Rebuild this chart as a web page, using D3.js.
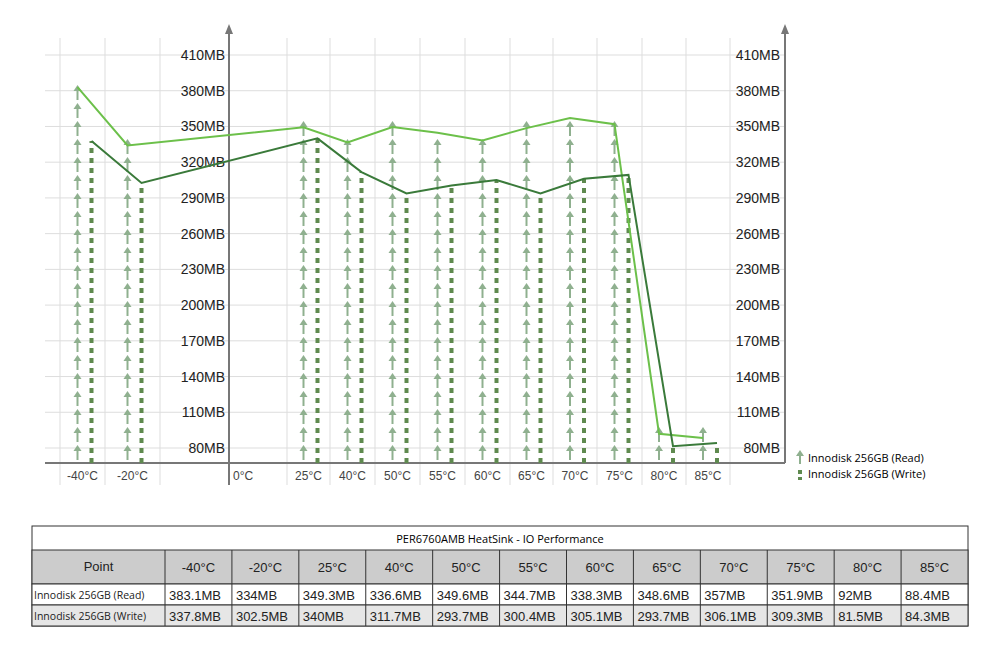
<!DOCTYPE html>
<html><head><meta charset="utf-8">
<script src="https://cdn.jsdelivr.net/npm/d3@7"></script>
<style>body{margin:0;background:#fff;font-family:Arial,"Liberation Sans",sans-serif}</style>
</head><body><svg id="c" width="1000" height="650"></svg>
<script>
var temps = ["-40°C","-20°C","","0°C","25°C","40°C","50°C","55°C","60°C","65°C","70°C","75°C","80°C","85°C",""];
var gridX = [60,105,160,229,287,330,375,420,465,510,553,597,642,686,730];
var readVals = [383.1,334,null,null,349.3,336.6,349.6,344.7,338.3,348.6,357,351.9,92,88.4];
var writeVals = [337.8,302.5,null,null,340,311.7,293.7,300.4,305.1,293.7,306.1,309.3,81.5,84.3];
var tableTemps = ["-40°C","-20°C","25°C","40°C","50°C","55°C","60°C","65°C","70°C","75°C","80°C","85°C"];
var readLabels = ["383.1MB","334MB","349.3MB","336.6MB","349.6MB","344.7MB","338.3MB","348.6MB","357MB","351.9MB","92MB","88.4MB"];
var writeLabels = ["337.8MB","302.5MB","340MB","311.7MB","293.7MB","300.4MB","305.1MB","293.7MB","306.1MB","309.3MB","81.5MB","84.3MB"];
var yTicks = [80,110,140,170,200,230,260,290,320,350,380,410];

var svg = d3.select("#c");
var y = d3.scaleLinear().domain([80,410]).range([448,55]);
var baseY = 463;
var cRead = "#6cc04a", cWrite = "#3a7a3a", cArrow = "#8fb08f", cDash = "#5f8a4f";

// grid
yTicks.forEach(function(t){
  svg.append("line").attr("x1",45).attr("x2",785).attr("y1",y(t)).attr("y2",y(t)).attr("stroke","#ddd");
});
gridX.forEach(function(x){
  svg.append("line").attr("x1",x).attr("x2",x).attr("y1",38).attr("y2",485).attr("stroke","#ddd");
});
// axes
svg.append("line").attr("x1",45).attr("x2",785).attr("y1",baseY).attr("y2",baseY).attr("stroke","#777").attr("stroke-width",2);
[229,785].forEach(function(x){
  svg.append("line").attr("x1",x).attr("x2",x).attr("y1",30).attr("y2",x==229?485:baseY).attr("stroke","#777").attr("stroke-width",2);
  svg.append("path").attr("d","M"+(x-4)+",34L"+x+",24L"+(x+4)+",34Z").attr("fill","#777");
});
yTicks.forEach(function(t){
  [225,780].forEach(function(x){
    svg.append("text").attr("x",x).attr("y",y(t)+5).attr("text-anchor","end").attr("font-size",14).attr("fill","#222").text(t+"MB");
  });
});
// x labels
temps.forEach(function(t,i){
  if(!t) return;
  var cx = t=="0°C" ? 233 : (gridX[i]+gridX[i+1])/2;
  svg.append("text").attr("x",cx).attr("y",480).attr("text-anchor",t=="0°C"?"start":"middle").attr("font-size",12).attr("fill","#444").text(t);
});
function centerX(i){return (gridX[i]+gridX[i+1])/2;}
function arrowCol(x,top){
  var g = svg.append("g");
  for(var yy=baseY-3; yy>top+4; yy-=18){
    g.append("path").attr("d","M"+(x-4)+","+(yy-9)+"L"+x+","+(yy-15)+"L"+(x+4)+","+(yy-9)+"Z").attr("fill",cArrow);
    g.append("line").attr("x1",x).attr("x2",x).attr("y1",yy-9).attr("y2",yy).attr("stroke",cArrow).attr("stroke-width",2);
  }
}
readVals.forEach(function(v,i){
  if(v==null) return;
  var x = centerX(i)-5, top=y(v);
  arrowCol(x,top);
  var w = writeVals[i], wx = centerX(i)+9;
  svg.append("line").attr("x1",wx).attr("x2",wx).attr("y1",baseY).attr("y2",y(w)).attr("stroke",cDash).attr("stroke-width",4).attr("stroke-dasharray","5,5");
});
function linePts(vals,off){
  var p=[];vals.forEach(function(v,i){if(v!=null)p.push([centerX(i)+off,y(v)]);});return p;
}
var line = d3.line();
svg.append("path").attr("d",line(linePts(readVals,-5))).attr("fill","none").attr("stroke",cRead).attr("stroke-width",2);
svg.append("path").attr("d",line(linePts(writeVals,9))).attr("fill","none").attr("stroke",cWrite).attr("stroke-width",2);
// legend
var lg = svg.append("g").attr("transform","translate(800,458)");
lg.append("path").attr("d","M-4,-2L0,-8L4,-2Z").attr("fill",cArrow);
lg.append("line").attr("x1",0).attr("x2",0).attr("y1",-2).attr("y2",6).attr("stroke",cArrow).attr("stroke-width",2);
lg.append("text").attr("x",8).attr("y",4).attr("font-size",11).attr("font-family","'Open Sans',sans-serif").text("Innodisk 256GB (Read)");
lg.append("line").attr("x1",0).attr("x2",0).attr("y1",12).attr("y2",22).attr("stroke",cDash).attr("stroke-width",4).attr("stroke-dasharray","4,3");
lg.append("text").attr("x",8).attr("y",20).attr("font-size",11).attr("font-family","'Open Sans',sans-serif").text("Innodisk 256GB (Write)");

// table
var tx=32, tw=936, c0=133, cw=(tw-c0)/12;
var t = svg.append("g");
t.append("rect").attr("x",tx).attr("y",526).attr("width",tw).attr("height",100).attr("fill","#fff").attr("stroke","#333");
t.append("text").attr("x",tx+tw/2).attr("y",543).attr("text-anchor","middle").attr("font-size",11).attr("font-family","'Open Sans',sans-serif").text("PER6760AMB HeatSink - IO Performance");
var rows=[{y:550,h:34,fill:"#ccc",first:"Point",cells:tableTemps,fs:13},
  {y:584,h:21,fill:"#fff",first:"Innodisk 256GB (Read)",cells:readLabels,fs:13},
  {y:605,h:21,fill:"#e6e6e6",first:"Innodisk 256GB (Write)",cells:writeLabels,fs:13}];
rows.forEach(function(r,ri){
  t.append("rect").attr("x",tx).attr("y",r.y).attr("width",tw).attr("height",r.h).attr("fill",r.fill).attr("stroke","#333");
  t.append("text").attr("x",ri==0?tx+c0/2:tx+2).attr("y",r.y+r.h/2+4).attr("text-anchor",ri==0?"middle":"start")
   .attr("font-size",ri==0?13:10.5).attr("font-family",ri==0?"Arial,sans-serif":"'Open Sans',sans-serif").attr("fill","#222").text(r.first);
  r.cells.forEach(function(c,i){
    var x=tx+c0+i*cw;
    t.append("line").attr("x1",x).attr("x2",x).attr("y1",r.y).attr("y2",r.y+r.h).attr("stroke","#333");
    t.append("text").attr("x",ri==0?x+cw/2:x+4).attr("y",r.y+r.h/2+5).attr("text-anchor",ri==0?"middle":"start").attr("font-size",13).attr("fill","#222").text(c);
  });
});
</script></body></html>
